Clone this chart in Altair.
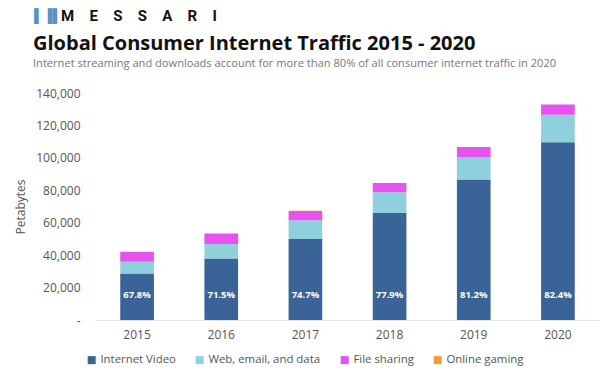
import altair as alt
import pandas as pd

years = ["2015", "2016", "2017", "2018", "2019", "2020"]
categories = ["Internet Video", "Web, email, and data", "File sharing", "Online gaming"]
internet_video = [28700, 38000, 50000, 66000, 86600, 109700]
web_email_data = [7200, 8800, 11500, 12800, 13700, 16900]
file_sharing = [6100, 6500, 5800, 5700, 6400, 6300]
online_gaming = [20, 25, 30, 35, 40, 50]
video_share = ["67.8%", "71.5%", "74.7%", "77.9%", "81.2%", "82.4%"]
y_ticks = [0, 20000, 40000, 60000, 80000, 100000, 120000, 140000]
colors = ["#3A6398", "#8ED0DB", "#E653EE", "#F39B34"]

rows = []
for i, y in enumerate(years):
    for k, (cat, series) in enumerate(zip(categories, [internet_video, web_email_data, file_sharing, online_gaming])):
        rows.append({"year": y, "category": cat, "value": series[i], "order": k})
df = pd.DataFrame(rows)
lab = pd.DataFrame({"year": years, "pct": video_share})

FONT = "Open Sans"

xscale = alt.Scale(domain=years, paddingInner=0.6, paddingOuter=0.3)

bars = alt.Chart(df).mark_bar().encode(
    x=alt.X("year:N", scale=xscale, title=None,
            axis=alt.Axis(labelAngle=0, ticks=False, domainColor="#e3e3e3", domainWidth=1,
                          labelFontSize=12, labelColor="#555", labelFont=FONT, labelPadding=9)),
    y=alt.Y("value:Q", stack="zero",
            scale=alt.Scale(domain=[0, 140000], nice=False),
            axis=alt.Axis(values=y_ticks, grid=False, domain=False, ticks=False,
                          labelExpr="datum.value == 0 ? '-' : format(datum.value, ',')",
                          labelFontSize=12, labelColor="#555", labelFont=FONT, labelPadding=15,
                          title="Petabytes", titleFontWeight="normal", titleFontSize=12,
                          titleColor="#555", titleFont=FONT, titlePadding=8)),
    color=alt.Color("category:N", sort=categories,
                    scale=alt.Scale(domain=categories, range=colors),
                    legend=alt.Legend(orient="none", direction="horizontal", legendX=-9, legendY=261,
                                      title=None, symbolType="square", symbolSize=64,
                                      symbolStrokeWidth=0, labelFontSize=11.4, labelColor="#555",
                                      labelFont=FONT, columnPadding=18, labelOffset=3)),
    order=alt.Order("order:Q", sort="ascending"),
)

labels = alt.Chart(lab).mark_text(color="white", fontWeight="bold", fontSize=9.5, font=FONT).encode(
    x=alt.X("year:N", scale=xscale),
    text="pct:N",
    y=alt.value(202),
)

hdr = pd.DataFrame({"t": [0]})
logo_icon = alt.Chart(hdr).mark_text(text="\u258c\u2590\u258c", fontSize=13, color="#5b8fc9", align="left", baseline="middle").encode(
    x=alt.value(-61), y=alt.value(-77))
logo = alt.Chart(hdr).mark_text(text="M\u2003E\u2003S\u2003S\u2003A\u2003R\u2003I", fontSize=15, fontWeight="bold",
                                 font="Roboto", color="#111", align="left", baseline="middle").encode(
    x=alt.value(-34), y=alt.value(-77))
title = alt.Chart(hdr).mark_text(text="Global Consumer Internet Traffic 2015 - 2020", fontSize=20, fontWeight="bold",
                                  font=FONT, color="#111", align="left", baseline="middle").encode(
    x=alt.value(-62), y=alt.value(-49))
subtitle = alt.Chart(hdr).mark_text(text="Internet streaming and downloads account for more than 80% of all consumer internet traffic in 2020",
                                     fontSize=11.1, font=FONT, color="#777", align="left", baseline="middle").encode(
    x=alt.value(-62), y=alt.value(-29))

chart = alt.layer(bars, labels, logo_icon, logo, title, subtitle).properties(
    width=505, height=227,
    autosize=alt.AutoSizeParams(type="none"),
    padding={"left": 95, "top": 93, "right": 0, "bottom": 56},
    background="white",
).configure_view(stroke=None)

chart.save("out.html", embed_options={"renderer": "svg", "actions": False})
